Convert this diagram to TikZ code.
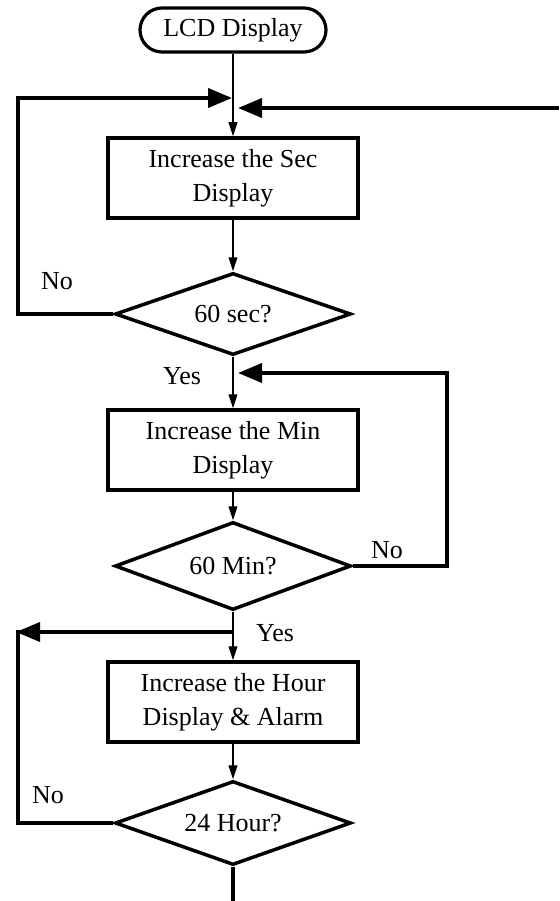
\documentclass[tikz,border=0pt]{standalone}
\usepackage{fontspec}
\setmainfont{Liberation Serif}
\usetikzlibrary{shapes.geometric,arrows.meta}
\begin{document}
\begin{tikzpicture}[x=1pt,y=-1pt,
  every node/.style={font=\fontsize{26}{34}\selectfont},
  term/.style={draw,line width=3.2pt,rounded corners=22pt,minimum width=186pt,minimum height=44pt,inner sep=0pt},
  procbox/.style={draw,line width=3.5pt,minimum width=250pt,minimum height=80pt,align=center,inner sep=0pt},
  decision/.style={draw,diamond,aspect=2.8,line width=3.5pt,minimum width=236pt,minimum height=84pt,inner sep=0pt},
  flow/.style={line width=1.1pt,-{Triangle[length=14pt,width=9pt]}},
  loopline/.style={line width=3.8pt},
  looparrow/.style={line width=3.8pt,-{Triangle[length=24pt,width=19pt]}},
  lbl/.style={inner sep=0pt}]
\useasboundingbox (0,0) rectangle (559,901);
\node[term] (t) at (233,30) {LCD Display};
\node[procbox] (b1) at (233,178) {Increase the Sec\\Display};
\node[decision,minimum height=82pt] (d1) at (233,314) {60 sec?};
\node[procbox] (b2) at (233,450) {Increase the Min\\Display};
\node[decision,minimum height=88pt] (d2) at (233,566) {60 Min?};
\node[procbox] (b3) at (233,702) {Increase the Hour\\Display \& Alarm};
\node[decision] (d3) at (233,823) {24 Hour?};
% coordinates
\coordinate (m1) at (232,98);
\coordinate (m1r) at (238,108);
\coordinate (e1) at (559,108);
\coordinate (c1a) at (18,314);
\coordinate (c1b) at (18,98);
\coordinate (m2r) at (238,373);
\coordinate (c2a) at (447,566);
\coordinate (c2b) at (447,373);
\coordinate (m3) at (233,632);
\coordinate (c3a) at (16,632);
\coordinate (c3b) at (18,823);
\coordinate (bot) at (233,901);
% main flow
\draw[flow] (t.south) -- (b1.north);
\draw[flow] (b1.south) -- (d1.north);
\draw[flow] (d1.south) -- (b2.north);
\draw[flow] (b2.south) -- (d2.north);
\draw[flow] (d2.south) -- (b3.north);
\draw[flow] (b3.south) -- (d3.north);
\draw[loopline] (d3.south) -- (bot);
% loops
\draw[looparrow] (d1.west) -- (c1a) -- (c1b) -- (m1);
\draw[looparrow] (e1) -- (m1r);
\draw[looparrow] (d2.east) -- (c2a) -- (c2b) -- (m2r);
\draw[loopline] (d3.west) -- (c3b) -- (18,630);
\draw[looparrow] (m3) -- (c3a);
% labels
\node[lbl] (no1) at (57,281) {No};
\node[lbl] (yes1) at (182,376) {Yes};
\node[lbl] (no2) at (387,550) {No};
\node[lbl] (yes2) at (275,633) {Yes};
\node[lbl] (no3) at (48,795) {No};
\end{tikzpicture}
\end{document}
